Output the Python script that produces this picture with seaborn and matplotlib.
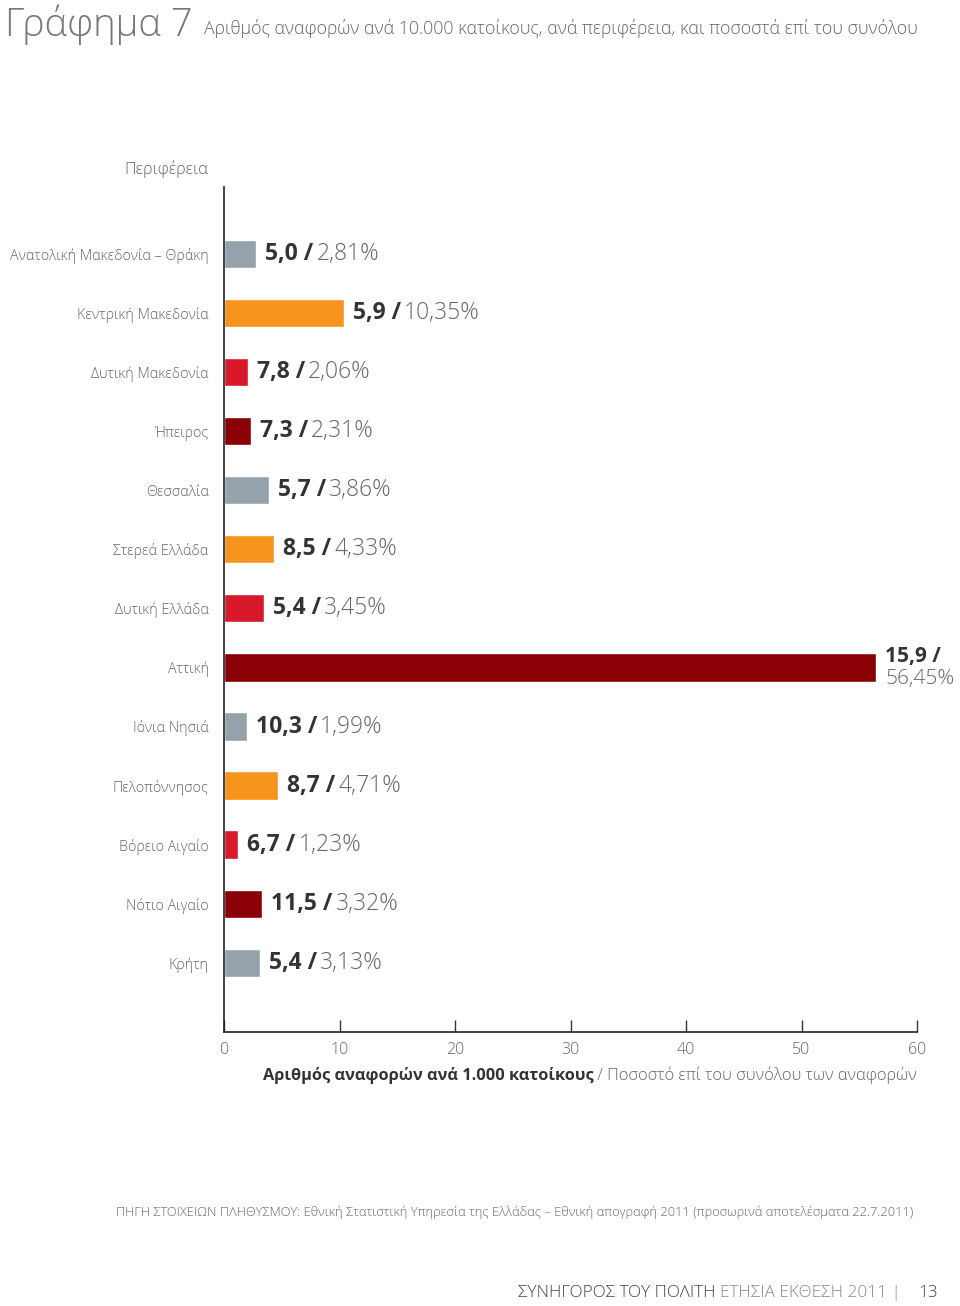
import matplotlib.pyplot as plt
import pandas as pd
import seaborn as sns
from matplotlib.offsetbox import TextArea, HPacker, VPacker, AnnotationBbox

# δεδομένα
regions = ['Ανατολική Μακεδονία – Θράκη', 'Κεντρική Μακεδονία', 'Δυτική Μακεδονία', 'Ήπειρος',
           'Θεσσαλία', 'Στερεά Ελλάδα', 'Δυτική Ελλάδα', 'Αττική', 'Ιόνια Νησιά', 'Πελοπόννησος',
           'Βόρειο Αιγαίο', 'Νότιο Αιγαίο', 'Κρήτη']
per_1000 = ['5,0', '5,9', '7,8', '7,3', '5,7', '8,5', '5,4', '15,9', '10,3', '8,7', '6,7', '11,5', '5,4']
percent = [2.81, 10.35, 2.06, 2.31, 3.86, 4.33, 3.45, 56.45, 1.99, 4.71, 1.23, 3.32, 3.13]
bar_colors = ['#95a2ab', '#f7941d', '#d7192a', '#8a0005'] * 3 + ['#95a2ab']
x_ticks = [0, 10, 20, 30, 40, 50, 60]

df = pd.DataFrame({'region': regions, 'percent': percent})

sns.set_theme(style='white')
plt.rcParams['font.family'] = ['Open Sans', 'DejaVu Sans']

DARK = '#333333'
GREY = '#666666'

fig = plt.figure(figsize=(9.6, 13.06), dpi=100)
ax = fig.add_axes([224 / 960, 1 - 1032 / 1306, (917 - 224) / 960, (1032 - 187) / 1306])

sns.barplot(data=df, x='percent', y='region', hue='region', palette=bar_colors,
            legend=False, width=0.48, saturation=1, ax=ax)

ax.set_xlim(0, 60)
ax.set_ylim(13.17, -1.13)
ax.set_xticks(x_ticks)
ax.set_xticklabels([str(t) for t in x_ticks], color=GREY, fontsize=11.5, fontweight='light')
ax.tick_params(axis='x', direction='in', length=9, width=1, color='#333333', pad=7, bottom=True)
ax.tick_params(axis='y', length=0, pad=11, labelsize=10.3, labelcolor=GREY)
for lab in ax.get_yticklabels():
    lab.set_fontweight('light')
ax.set_xlabel('')
ax.set_ylabel('')
sns.despine(ax=ax, top=True, right=True)
for s in ['left', 'bottom']:
    ax.spines[s].set_color('#222222')
    ax.spines[s].set_linewidth(1.2)

# ετικέτες τιμών
for i, (v, p) in enumerate(zip(per_1000, percent)):
    pct = f'{p:.2f}'.replace('.', ',') + '%'
    fs = 15 if p > 50 else 16.5
    bold = TextArea(f'{v} /', textprops=dict(color=DARK, fontsize=fs, fontweight='bold'))
    light = TextArea(pct, textprops=dict(color=GREY, fontsize=fs, fontweight='light'))
    if p > 50:
        box = VPacker(children=[bold, light], align='left', pad=0, sep=1)
    else:
        box = HPacker(children=[bold, TextArea(' ', textprops=dict(fontsize=8)), light],
                      align='baseline', pad=0, sep=0)
    ab = AnnotationBbox(box, (p, i), xybox=(6.5, 0), xycoords='data', boxcoords='offset points',
                        box_alignment=(0, 0.5), frameon=False, pad=0, annotation_clip=False)
    ax.add_artist(ab)

# τίτλος άξονα x
xl_bold = TextArea('Αριθμός αναφορών ανά 1.000 κατοίκους',
                   textprops=dict(color=DARK, fontsize=11.8, fontweight='bold'))
xl_light = TextArea(' / Ποσοστό επί του συνόλου των αναφορών',
                    textprops=dict(color=GREY, fontsize=11.8, fontweight='light'))
xl = HPacker(children=[xl_bold, xl_light], align='baseline', pad=0, sep=0)
ax.add_artist(AnnotationBbox(xl, (1, 0), xybox=(0, -31), xycoords='axes fraction',
                             boxcoords='offset points', box_alignment=(1, 0.5),
                             frameon=False, pad=0, annotation_clip=False))

# τίτλοι
fig.text(5 / 960, 1 - 36 / 1306, 'Γράφημα 7', fontsize=27.5, color='#777777',
         fontweight='light', va='baseline')
fig.text(204 / 960, 1 - 34 / 1306,
         'Αριθμός αναφορών ανά 10.000 κατοίκους, ανά περιφέρεια, και ποσοστά επί του συνόλου',
         fontsize=12.8, color=GREY, fontweight='light', va='baseline')
fig.text(208 / 960, 1 - 169 / 1306, 'Περιφέρεια', fontsize=11.8, color=GREY,
         fontweight='light', ha='right', va='center')

fig.text(116 / 960, 1 - 1212 / 1306,
         'ΠΗΓΗ ΣΤΟΙΧΕΙΩΝ ΠΛΗΘΥΣΜΟΥ: Εθνική Στατιστική Υπηρεσία της Ελλάδας – Εθνική απογραφή 2011 '
         '(προσωρινά αποτελέσματα 22.7.2011)',
         fontsize=9.3, color=GREY, fontweight='light', va='center')

foot = HPacker(children=[
    TextArea('ΣΥΝΗΓΟΡΟΣ ΤΟΥ ΠΟΛΙΤΗ ', textprops=dict(color='#444444', fontsize=12.3, fontweight='light')),
    TextArea('ΕΤΗΣΙΑ ΕΚΘΕΣΗ 2011 |    ', textprops=dict(color='#888888', fontsize=12.3, fontweight='light')),
    TextArea('13', textprops=dict(color='#444444', fontsize=12.3, fontweight='light')),
], align='baseline', pad=0, sep=0)
fig.add_artist(AnnotationBbox(foot, (938 / 960, 1 - 1293 / 1306), xycoords='figure fraction',
                              box_alignment=(1, 0.5), frameon=False, pad=0))

fig.savefig('out.png', dpi=100)
plt.close(fig)
